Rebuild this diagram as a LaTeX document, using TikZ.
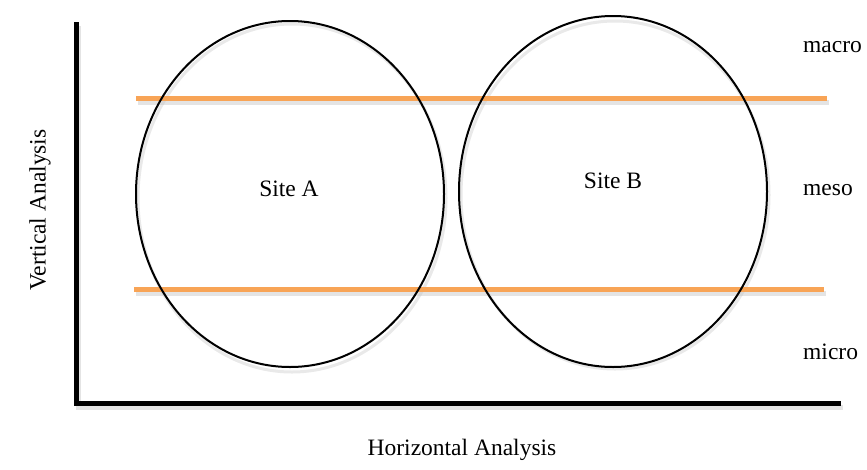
\documentclass[tikz,border=0pt]{standalone}
\usepackage{fontspec}
\setmainfont{Liberation Serif}
\usetikzlibrary{shapes.geometric}
\definecolor{bandline}{RGB}{248,164,86}
\tikzset{
  x=1pt, y=-1pt,
  txt/.style={font=\fontsize{23.5}{28}\selectfont, inner sep=0pt},
  sitering/.style={ellipse, draw=black, line width=2pt, minimum width=308pt, minimum height=348pt, inner sep=0pt},
  ringshadow/.style={ellipse, draw=black!25, line width=3pt, opacity=0.35, minimum width=308pt, minimum height=348pt, inner sep=0pt},
  band/.style={draw=bandline, line width=5pt},
  bandshadow/.style={draw=black!30, line width=5pt, opacity=0.35},
  axis/.style={draw=black, line width=5pt, miter limit=10},
  axisshadow/.style={draw=black!30, line width=5pt, opacity=0.35},
}
\begin{document}
\begin{tikzpicture}
\useasboundingbox (0,0) rectangle (867,469);

% axes corner points
\coordinate (ytop) at (76,22);
\coordinate (origin) at (76,403);
\coordinate (xend) at (841,403);

% band end points
\coordinate (b1l) at (136,98);
\coordinate (b1r) at (827,98);
\coordinate (b2l) at (134,289);
\coordinate (b2r) at (824,289);

% soft shadows
\draw[axisshadow] ([shift={(2,4)}]ytop) -- ([shift={(2,4)}]origin) -- ([shift={(2,4)}]xend);
\draw[bandshadow] ([shift={(2,4)}]b1l) -- ([shift={(2,4)}]b1r);
\draw[bandshadow] ([shift={(2,4)}]b2l) -- ([shift={(2,4)}]b2r);
\node[ringshadow] at (292,198) {};
\node[ringshadow] at (615,195) {};

% axes
\draw[axis] (ytop) -- (origin) -- (xend);

% horizontal level bands
\draw[band] (b1l) -- (b1r);
\draw[band] (b2l) -- (b2r);

% sites
\node[sitering, minimum height=346pt] (siteA) at (290,194) {};
\node[sitering, minimum height=351pt] (siteB) at (613,191.5) {};
\node[txt] (labA) at (289,189) {Site A};
\node[txt] (labB) at (613,181) {Site B};

% levels
\node[txt, anchor=west] (macro) at (803,47) {macro};
\node[txt, anchor=west] (meso) at (803,190) {meso};
\node[txt, anchor=west] (micro) at (803,352) {micro};

% axis titles
\node[txt, rotate=90] (vlab) at (40,210) {Vertical Analysis};
\node[txt] (hlab) at (462,450) {Horizontal Analysis};
\end{tikzpicture}
\end{document}
